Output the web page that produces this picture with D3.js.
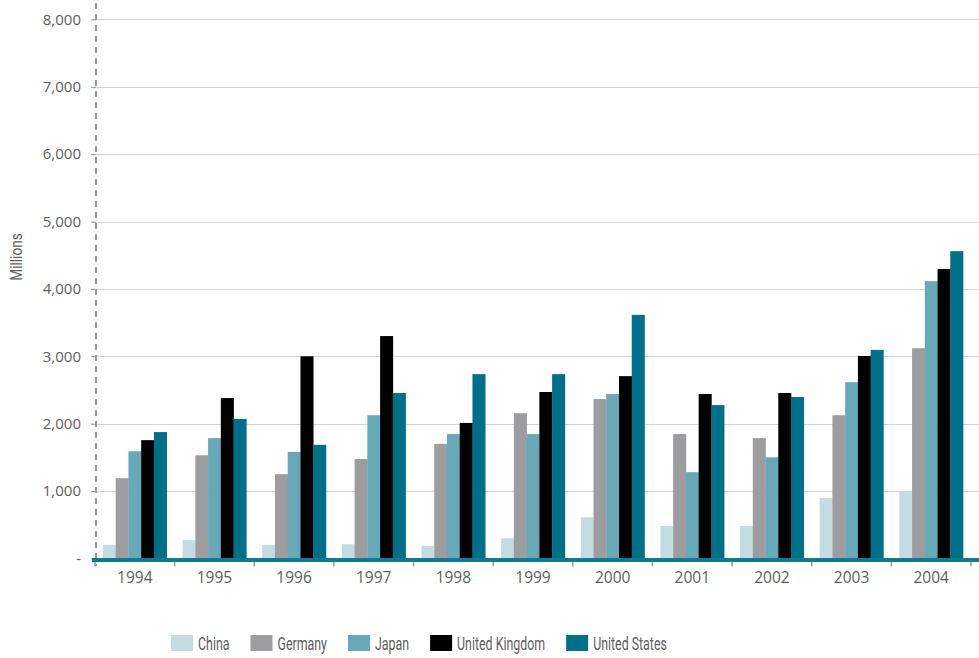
<!DOCTYPE html>
<html>
<head>
<meta charset="utf-8">
<script src="https://cdn.jsdelivr.net/npm/d3@7"></script>
<style>
  html, body { margin: 0; padding: 0; background: #fff; }
  svg { display: block; }
</style>
</head>
<body>
<svg id="chart" width="979" height="658"></svg>
<script>
const years = ["1994","1995","1996","1997","1998","1999","2000","2001","2002","2003","2004"];
const seriesNames = ["China","Germany","Japan","United Kingdom","United States"];
const china   = [200, 270, 200, 210, 185, 300, 610, 480, 480, 895, 1000];
const germany = [1190, 1530, 1250, 1475, 1700, 2155, 2365, 1845, 1785, 2125, 3120];
const japan   = [1590, 1785, 1580, 2125, 1845, 1845, 2440, 1280, 1500, 2615, 4115];
const uk      = [1755, 2380, 3000, 3300, 2010, 2470, 2705, 2440, 2455, 3005, 4295];
const us      = [1875, 2070, 1685, 2455, 2735, 2735, 3615, 2275, 2395, 3095, 4560];
const yTicks  = [0, 1000, 2000, 3000, 4000, 5000, 6000, 7000, 8000];
const colors  = ["#c2dce2", "#9d9d9f", "#67a9b8", "#000000", "#006f89"];
const yTitle  = "Millions";

const seriesValues = [china, germany, japan, uk, us];

const svg = d3.select("#chart");
const W = 979, H = 658;
const m = { left: 95, right: 8, top: 19.4, bottom: 99.6 };

const x = d3.scaleBand().domain(years).range([m.left, W - m.right]).paddingInner(0).paddingOuter(0);
const xs = d3.scaleBand().domain(seriesNames).range([x.bandwidth() * 0.1, x.bandwidth() * 0.9]).padding(0);
const y = d3.scaleLinear().domain([0, 8000]).range([H - m.bottom, m.top]);

const fontAxis = "'Open Sans', 'DejaVu Sans', sans-serif";
const fontLegend = "Roboto, 'Open Sans', sans-serif";
const squeeze = 0.67;

// gridlines
const grid = svg.append("g");
grid.selectAll("line").data(yTicks.filter(d => d > 0)).join("line")
  .attr("x1", 92).attr("x2", W)
  .attr("y1", d => Math.round(y(d)) + 0.5).attr("y2", d => Math.round(y(d)) + 0.5)
  .attr("stroke", "#d4d4d4").attr("stroke-width", 1.2);

// y axis
const yAxis = d3.axisLeft(y).tickValues(yTicks)
  .tickFormat(d => d === 0 ? "-" : d3.format(",")(d))
  .tickSize(5).tickPadding(10);
const gy = svg.append("g").attr("transform", `translate(${m.left + 1},0)`).call(yAxis);
gy.select(".domain").remove();
gy.selectAll(".tick line").attr("stroke", "#9a9a9a");
gy.selectAll(".tick text").attr("fill", "#5e5e5e").style("font-family", fontAxis).style("font-size", "15px");

// dashed y axis line
svg.append("line")
  .attr("x1", m.left + 1).attr("x2", m.left + 1)
  .attr("y1", 3).attr("y2", 566)
  .attr("stroke", "#9a9a9a").attr("stroke-width", 2)
  .attr("stroke-dasharray", "6,5");

// bars
const groups = svg.append("g").selectAll("g").data(years).join("g")
  .attr("transform", d => `translate(${x(d)},0)`);
groups.selectAll("rect")
  .data((yr, i) => seriesNames.map((s, k) => ({ s, k, v: seriesValues[k][i] })))
  .join("rect")
  .attr("x", d => xs(d.s))
  .attr("width", xs.bandwidth() + 0.3)
  .attr("y", d => y(d.v))
  .attr("height", d => y(0) - y(d.v))
  .attr("fill", d => colors[d.k]);

// x axis
const xAxis = d3.axisBottom(x).tickSize(0).tickPadding(14);
const gx = svg.append("g").attr("transform", `translate(0,${y(0)})`).call(xAxis);
gx.select(".domain").remove();
gx.selectAll(".tick text").attr("fill", "#5e5e5e").style("font-family", fontAxis).style("font-size", "15.5px");

// band boundary ticks
svg.append("g").selectAll("line").data(years.concat(["end"])).join("line")
  .attr("x1", (d, i) => m.left + i * x.bandwidth())
  .attr("x2", (d, i) => m.left + i * x.bandwidth())
  .attr("y1", y(0)).attr("y2", y(0) + 8)
  .attr("stroke", "#9a9a9a").attr("stroke-width", 1.5);

// thick baseline
svg.append("line")
  .attr("x1", 92).attr("x2", W)
  .attr("y1", y(0) + 1.5).attr("y2", y(0) + 1.5)
  .attr("stroke", "#117991").attr("stroke-width", 4);

// y title
svg.append("text")
  .attr("transform", `translate(22,257) rotate(-90) scale(0.8,1)`)
  .attr("text-anchor", "middle")
  .attr("fill", "#5e5e5e")
  .style("font-family", fontLegend).style("font-size", "17px")
  .text(yTitle);

// legend
const legend = svg.append("g").attr("transform", "translate(171,635)");
let lx = 0;
seriesNames.forEach((name, k) => {
  const g = legend.append("g").attr("transform", `translate(${lx},0)`);
  g.append("rect").attr("width", 22).attr("height", 16).attr("fill", colors[k]);
  const t = g.append("text")
    .attr("transform", `translate(27,14.5) scale(${squeeze},1)`)
    .attr("fill", "#5e5e5e")
    .style("font-family", fontLegend).style("font-size", "18.5px")
    .text(name);
  lx += 27 + t.node().getComputedTextLength() * squeeze + 21;
});
</script>
</body>
</html>
